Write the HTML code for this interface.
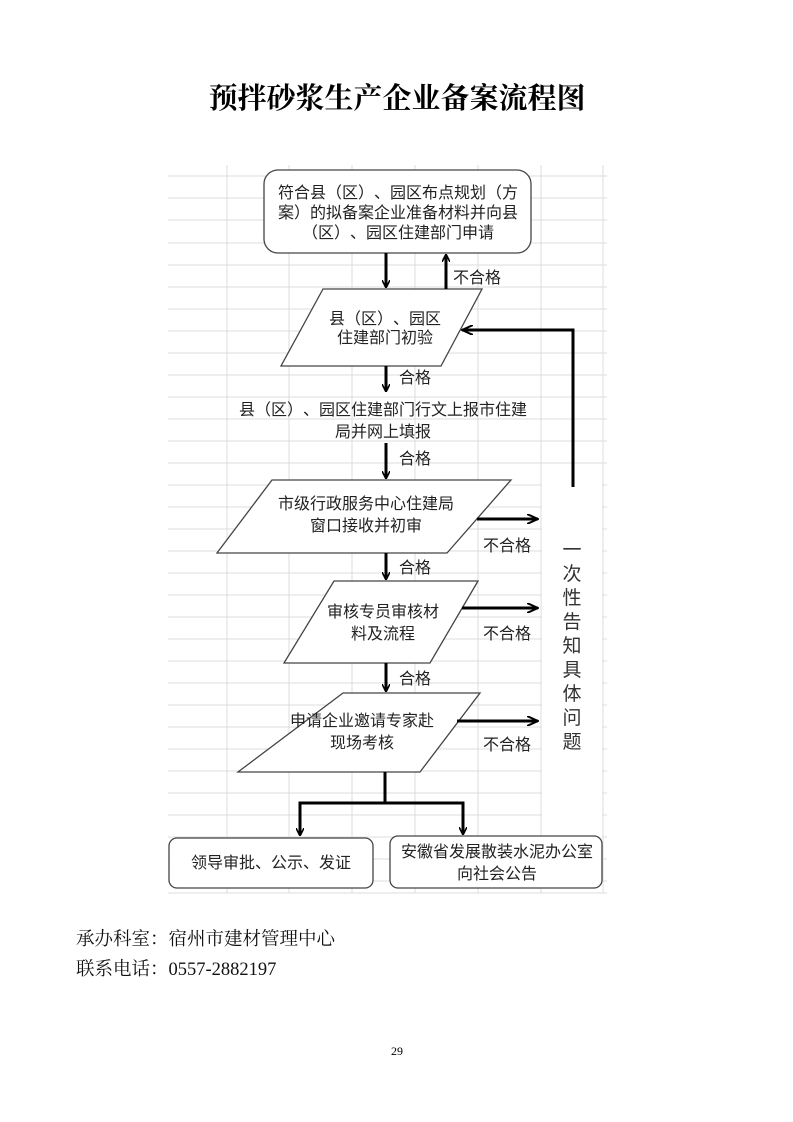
<!DOCTYPE html>
<html><head><meta charset="utf-8"><style>
html,body{margin:0;padding:0;background:#fff;}
svg{display:block;}
*{text-spacing-trim:space-all;}
.s{font-family:"Liberation Sans","Noto Sans CJK SC",sans-serif;font-size:16px;fill:#222;text-spacing-trim:space-all;}
.f{font-family:"Liberation Serif","Noto Serif CJK SC",serif;font-size:18.5px;fill:#111;text-spacing-trim:space-all;}
</style></head><body>
<svg width="793" height="1122" viewBox="0 0 793 1122" xmlns="http://www.w3.org/2000/svg">
<defs>
<marker id="a" markerWidth="8" markerHeight="8" refX="7" refY="4" orient="auto" markerUnits="userSpaceOnUse">
<path d="M0,0 L8,4 L0,8" fill="none" stroke="#000" stroke-width="1.6"/></marker>
<marker id="b" markerWidth="12" markerHeight="10" refX="11" refY="5" orient="auto" markerUnits="userSpaceOnUse">
<path d="M0,0 L11,5 L0,10" fill="none" stroke="#000" stroke-width="2"/></marker>
</defs>
<text x="397" y="108" text-anchor="middle" style="font-family:'Noto Serif CJK SC',serif;font-weight:bold;font-size:29px;fill:#000">预拌砂浆生产企业备案流程图</text>
<g stroke="#dcdcdc" stroke-width="1">
<path d="M168,176H607M168,198H607M168,220H607M168,243H607M168,265H607M168,287H607M168,309H607M168,331H607M168,353H607M168,375H607M168,397H607M168,419H607M168,441H607M168,463H607M168,485H607M168,507H607M168,529H607M168,551H607M168,573H607M168,595H607M168,617H607M168,639H607M168,661H607M168,683H607M168,705H607M168,727H607M168,749H607M168,771H607M168,793H607M168,815H607M168,837H607M168,859H607M168,881H607M168,893H607"/>
<path d="M227,165V893M289,165V893M352,165V893M415,165V893M478,165V893M541,165V893M603,165V893"/>
</g>
<rect x="542" y="479" width="60" height="413" fill="#fff"/>
<g fill="#fff" stroke="#444" stroke-width="1.3">
<rect x="264" y="170" width="267" height="83" rx="14"/>
<polygon points="323,289 482,289 441,366 281,366"/>
<polygon points="272,480 511,480 447,553 217,553"/>
<polygon points="334,581 478,581 430,663 284,663"/>
<polygon points="343,693 480,693 420,772 238,772"/>
<rect x="169" y="838" width="204" height="50" rx="8"/>
<rect x="390" y="836" width="212" height="52" rx="8"/>
</g>
<g class="s" text-anchor="middle">
<text x="398" y="198">符合县（区）、园区布点规划（方</text>
<text x="398" y="218">案）的拟备案企业准备材料并向县</text>
<text x="398" y="238">（区）、园区住建部门申请</text>
<text x="385" y="324">县（区）、园区</text>
<text x="385" y="343">住建部门初验</text>
<text x="383" y="415">县（区）、园区住建部门行文上报市住建</text>
<text x="383" y="437">局并网上填报</text>
<text x="366" y="509">市级行政服务中心住建局</text>
<text x="366" y="531">窗口接收并初审</text>
<text x="383" y="617">审核专员审核材</text>
<text x="383" y="639">料及流程</text>
<text x="362" y="726">申请企业邀请专家赴</text>
<text x="362" y="748">现场考核</text>
<text x="271" y="868">领导审批、公示、发证</text>
<text x="497" y="857">安徽省发展散装水泥办公室</text>
<text x="497" y="879">向社会公告</text>
</g>
<g class="s">
<text x="453" y="283">不合格</text>
<text x="399" y="383">合格</text>
<text x="399" y="464">合格</text>
<text x="399" y="573">合格</text>
<text x="399" y="684">合格</text>
<text x="483" y="551">不合格</text>
<text x="483" y="639">不合格</text>
<text x="483" y="750">不合格</text>
</g>
<g class="s" text-anchor="middle" style="font-size:19px;fill:#333">
<text x="572" y="556">一</text><text x="572" y="580">次</text><text x="572" y="604">性</text><text x="572" y="628">告</text><text x="572" y="652">知</text><text x="572" y="676">具</text><text x="572" y="700">体</text><text x="572" y="724">问</text><text x="572" y="748">题</text>
</g>
<g stroke="#000" stroke-width="3" fill="none">
<path d="M386,253V287" marker-end="url(#a)"/>
<path d="M446,289V255" marker-end="url(#a)"/>
<path d="M386,366V391" marker-end="url(#a)"/>
<path d="M386,443V478" marker-end="url(#a)"/>
<path d="M386,553V579" marker-end="url(#a)"/>
<path d="M386,663V691" marker-end="url(#a)"/>
<path d="M573,487V330H462" marker-end="url(#b)"/>
<path d="M477,519H538" marker-end="url(#b)"/>
<path d="M462,608H538" marker-end="url(#b)"/>
<path d="M457,721H538" marker-end="url(#b)"/>
<path d="M385,772V803"/>
<path d="M300,835V803H463V834" marker-end="url(#a)"/>
<path d="M300,803V835" marker-end="url(#a)"/>
</g>
<text class="f" x="76" y="945">承办科室：宿州市建材管理中心</text>
<text class="f" x="76" y="975">联系电话：0557-2882197</text>
<text x="397" y="1055" text-anchor="middle" style="font-family:'Liberation Serif',serif;font-size:12px;fill:#000">29</text>
</svg>
</body></html>
